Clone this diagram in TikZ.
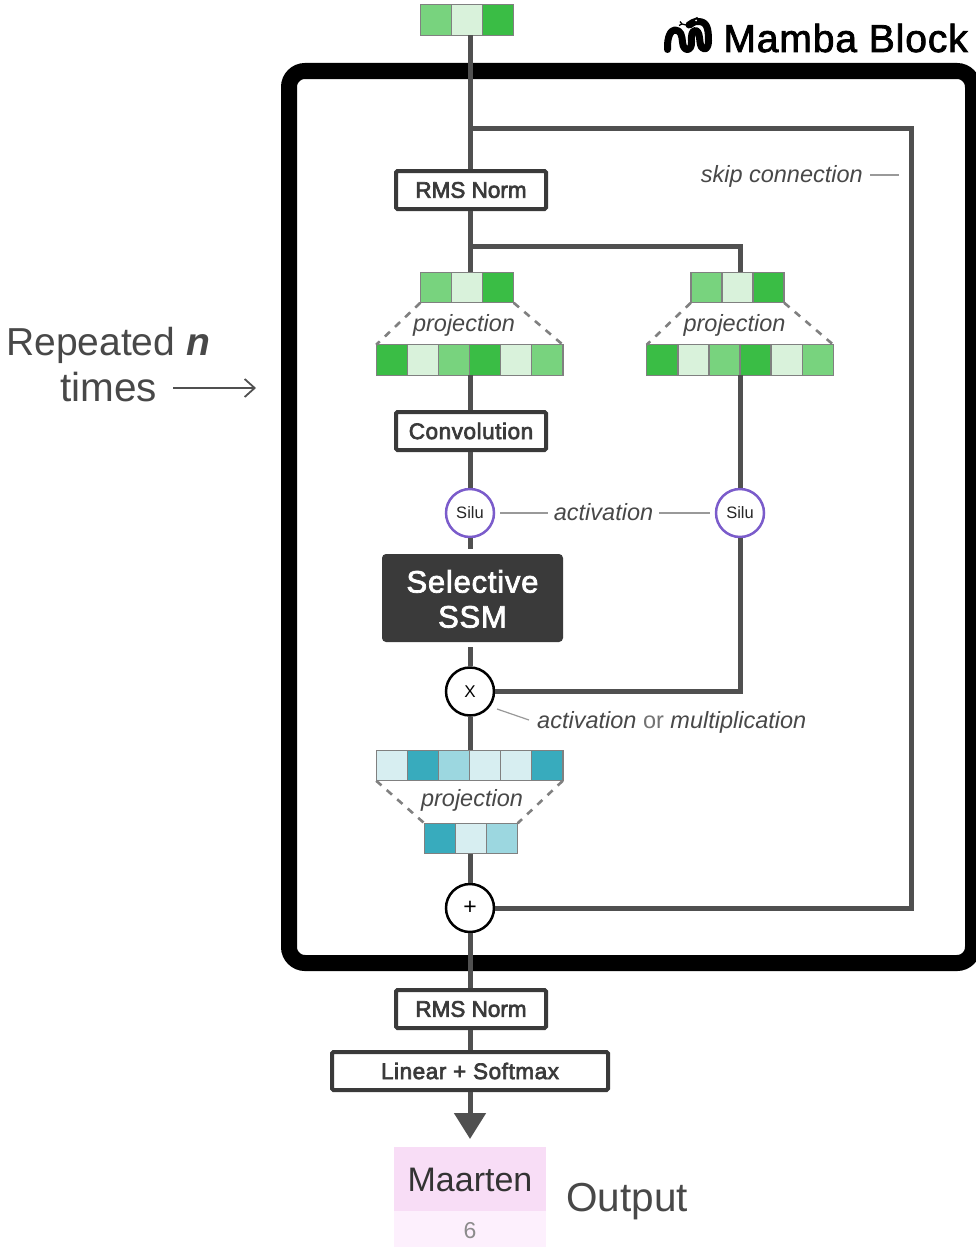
\documentclass[tikz,border=0pt]{standalone}
\usepackage{fontspec}
\setmainfont{Liberation Sans}
\newfontfamily\medf[FakeBold=3]{Liberation Sans}
\newfontfamily\medl[FakeBold=3,LetterSpace=2.5]{Liberation Sans}
\newfontfamily\sel[FakeBold=2.4,LetterSpace=2.5]{Liberation Sans}
\newfontfamily\titf[FakeBold=2,LetterSpace=2.3]{Liberation Sans}
\usetikzlibrary{arrows.meta}
\definecolor{lineg}{HTML}{505050}
\definecolor{cellb}{HTML}{808080}
\definecolor{gA}{HTML}{3ABD45}
\definecolor{gB}{HTML}{78D37E}
\definecolor{gC}{HTML}{D9F2DB}
\definecolor{bA}{HTML}{38ABBD}
\definecolor{bB}{HTML}{9CD7E0}
\definecolor{bC}{HTML}{D7EEF1}
\definecolor{purp}{HTML}{7B5CCB}
\definecolor{txt}{HTML}{484848}
\definecolor{txtbox}{HTML}{3A3A3A}
\tikzset{
  px/.style={x=1pt,y=-1pt},
  frameline/.style={draw=black,line width=16pt,rounded corners=16pt},
  wire/.style={draw=lineg,line width=5pt},
  boxn/.style={draw=txtbox,fill=white,line width=4pt,rounded corners=1.5pt,minimum height=38pt,inner sep=0pt,font=\fontsize{22.5}{26}\medf,text=txtbox},
  cell/.style={draw=cellb,line width=1.4pt,minimum height=30.5pt,inner sep=0pt,outer sep=0pt},
  vecout/.style={minimum height=30.5pt,inner sep=0pt,outer sep=0pt},
  dashl/.style={draw=cellb,line width=2.6pt,dash pattern=on 7pt off 7pt},
  opn/.style={circle,draw=black,fill=white,line width=2.5pt,minimum size=48pt,inner sep=0pt,font=\fontsize{17}{18}\selectfont},
  siluc/.style={circle,draw=purp,fill=white,line width=2.5pt,minimum size=48pt,inner sep=0pt,font=\fontsize{16.5}{18}\selectfont,text=black!85},
  lab/.style={inner sep=0pt,text=txt,font=\fontsize{23.5}{26}\selectfont\itshape},
  leader/.style={draw=black!40,line width=1.2pt},
  big/.style={inner sep=0pt,text=txt,font=\fontsize{39}{42}\selectfont},
}
\newcommand\vecrow[5]{%
  \path (#2,#3) node[vecout,minimum width=#4*31.1pt] (#1) {};
  \foreach \c [count=\i] in {#5} {
    \path (#2,#3) ++({(\i-0.5-#4/2)*31.1},0) node[cell,minimum width=31.1pt,fill=\c] (#1-\i) {};
  }
}
\begin{document}
\begin{tikzpicture}[px]
\useasboundingbox (0,0) rectangle (976,1247);
\begin{scope}
\clip (0,0) rectangle (976,1247);
\draw[frameline] (289,71) rectangle (973,963);
\end{scope}
\node[anchor=base east,inner sep=0pt,font=\fontsize{39}{42}\titf,text=black] (title) at (968,52) {Mamba Block};
\draw[line width=7pt,line cap=round,line join=round,black]
  (667.5,49.5) .. controls (667,36) and (671,30) .. (675,30)
  .. controls (681,30) and (682,36) .. (682.5,42)
  .. controls (683,52) and (692,52) .. (691.5,42)
  .. controls (691,35) and (692,30.5) .. (695.5,30.5)
  .. controls (699,30.5) and (699.5,37) .. (700,42)
  .. controls (701,52) and (708.5,51) .. (708.5,41)
  .. controls (708.5,28) and (707,21.5) .. (698,21.5)
  .. controls (694,21.5) and (691,23) .. (689,25);
\fill[black] (686,23) -- (697,17) -- (702,21) -- (691,28) -- cycle;
\draw[line width=1.3pt,black] (688,25.5) -- (682,24) (682,24) -- (680,21.5) (682,24) -- (679,25.5);
\fill[white] (696,20.5) circle (1pt);
\vecrow{vtop}{467}{20}{3}{gB,gC,gA}
\vecrow{vl}{467}{287.5}{3}{gB,gC,gA}
\vecrow{vr}{737.5}{287.5}{3}{gB,gC,gA}
\vecrow{vlb}{469.5}{360}{6}{gA,gC,gB,gA,gC,gB}
\vecrow{vrb}{740}{360}{6}{gA,gC,gB,gA,gC,gB}
\vecrow{bb}{469.5}{765.5}{6}{bC,bA,bB,bC,bC,bA}
\vecrow{bs}{471}{838.5}{3}{bA,bC,bB}
\node[boxn,minimum width=150pt] (rmsa) at (471,190) {RMS Norm};
\node[boxn,minimum width=150pt,font=\fontsize{22.5}{26}\medl] (conv) at (471,431) {Convolution};
\node[boxn,minimum width=150pt] (rmsb) at (471,1009) {RMS Norm};
\node[boxn,minimum width=276pt,font=\fontsize{22.5}{26}\medl] (lin) at (470,1071) {Linear + Softmax};
\node[fill=txtbox,rounded corners=4pt,minimum width=181pt,minimum height=88pt,inner sep=0pt] (ssm) at (472.5,598) {};
\node[inner sep=0pt,align=center,text=white,font=\fontsize{31}{35}\sel] (ssmt) at (472.5,599) {Selective\\SSM};
\node[siluc] (sa) at (470,513) {Silu};
\node[siluc] (sb) at (740,513) {Silu};
\node[opn] (mul) at (470,691.5) {X};
\node[opn,font=\fontsize{23}{24}\selectfont] (add) at (470,908) {+};
\node[minimum width=152pt,minimum height=64pt,inner sep=0pt,fill={rgb,255:red,248;green,221;blue,246}] (out) at (470,1179) {};
\node[inner sep=0pt,text=black!80,font=\fontsize{34}{36}\selectfont] (outt) at (470,1180) {Maarten};
\node[minimum width=152pt,minimum height=36pt,inner sep=0pt,fill={rgb,255:red,253;green,240;blue,253}] (idx) at (470,1229) {};
\node[inner sep=0pt,text=black!45,font=\fontsize{23}{24}\selectfont] (idxt) at (470,1231) {6};
\node[big,anchor=base west,font=\fontsize{40.5}{42}\selectfont] (outl) at (566,1211) {Output};
\coordinate (jskip) at (470,128);
\coordinate (jbr) at (470,246);
\coordinate (skipa) at (911,128);
\coordinate (skipb) at (911,908);
\coordinate (bra) at (740,246);
\coordinate (mulr) at (740,691.5);
\draw[wire] (vtop.south -| jskip) -- (rmsa.north -| jskip);
\draw[wire,line join=miter] (jskip) -- (skipa) -- (skipb) -- (add.east);
\draw[wire] (rmsa.south -| jbr) -- (vl.north -| jbr);
\draw[wire] (jbr) -- (bra) -- (vr.north -| bra);
\draw[wire] (vlb.south -| jbr) -- (conv.north -| jbr);
\draw[wire] (conv.south -| jbr) -- (sa.north);
\draw[wire,shorten >=5pt] (sa.south) -- (ssm.north -| sa);
\draw[wire,shorten <=5pt] (ssm.south -| mul) -- (mul.north);
\draw[wire] (mul.south) -- (bb.north -| mul);
\draw[wire] (bs.south -| add) -- (add.north);
\draw[wire] (add.south) -- (rmsb.north -| add);
\draw[wire] (rmsb.south -| add) -- (lin.north -| add);
\draw[wire] (vrb.south -| sb) -- (sb.north);
\draw[wire] (sb.south) -- (mulr) -- (mul.east);
\draw[draw=lineg,line width=5pt,-{Triangle[length=26pt,width=31pt]}] (lin.south -| add) -- ++(0,47);
\draw[dashl] (vl.south west) -- (vlb.north west);
\draw[dashl] (vl.south east) -- (vlb.north east);
\draw[dashl] (vr.south west) -- (vrb.north west);
\draw[dashl] (vr.south east) -- (vrb.north east);
\draw[dashl] (bb.south west) -- (bs.north west);
\draw[dashl] (bb.south east) -- (bs.north east);
\node[lab] (pa) at (464,325) {projection};
\node[lab] (pb) at (734.5,325) {projection};
\node[lab] (pc) at (472,800.5) {projection};
\node[lab,anchor=east] (skipt) at (863,176.5) {skip connection};
\coordinate (skipe) at (899,175);
\draw[leader] (skipt.east |- skipe) ++(7,0) -- (skipe);
\node[lab] (act) at (603.5,512.5) {activation};
\draw[leader,shorten <=5pt,shorten >=6pt] (sa.east) -- (act.west |- sa.east);
\draw[leader,shorten <=6pt,shorten >=5pt] (act.east |- sb.west) -- (sb.west);
\node[lab,anchor=west] (am) at (537,722.5) {activation {\upshape\color{black!55}or} multiplication};
\coordinate (amc) at (497,709);
\draw[leader] (amc) -- (529,720);
\node[big,anchor=base west] (rep) at (6,355) {Repeated \textbf{\textit{n}}};
\node[big,anchor=base west,font=\fontsize{40.5}{42}\selectfont] (tim) at (60,401) {times};
\coordinate (arre) at (256,388);
\draw[draw=lineg,line width=1.8pt,-{Straight Barb[length=10pt,width=18pt]}] (173,388) -- (arre);
\end{tikzpicture}
\end{document}
